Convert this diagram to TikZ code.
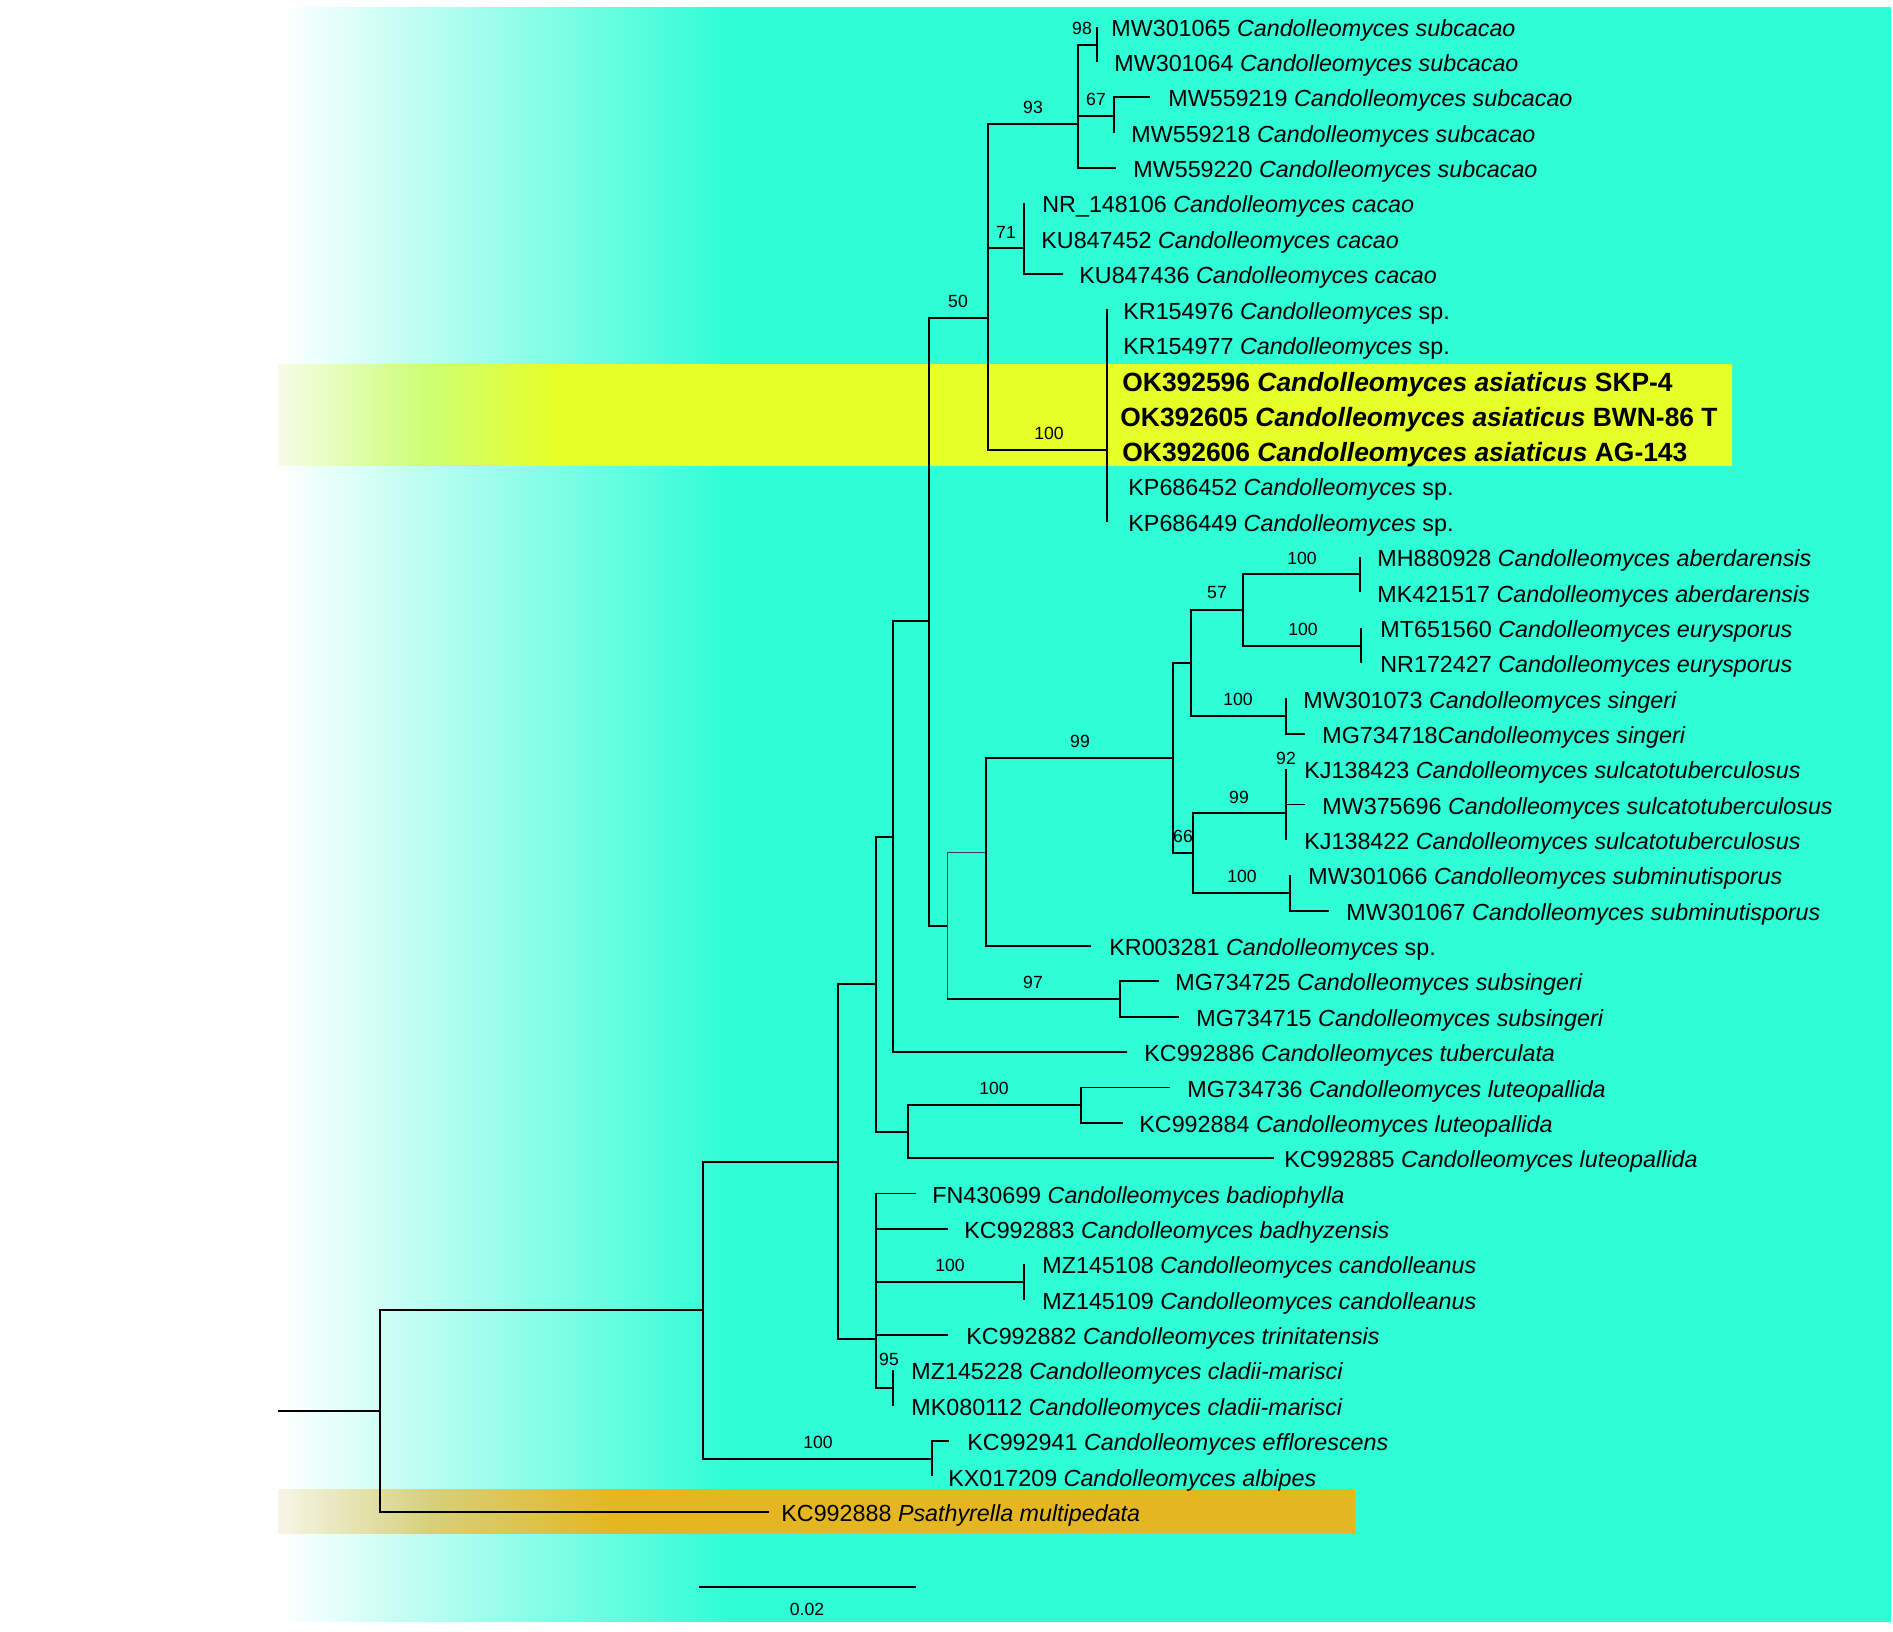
\documentclass[tikz,border=0pt]{standalone}
\usepackage{fontspec}
\setmainfont{Liberation Sans}
\usepackage{xcolor}
\usepackage{tikz}

\definecolor{bgteal}{RGB}{46,253,213}
\definecolor{hlyellow}{RGB}{230,255,38}
\definecolor{hlyelpale}{RGB}{246,252,232}
\definecolor{hlyelmid}{RGB}{205,255,118}
\definecolor{hlorange}{RGB}{228,183,34}
\definecolor{hlorpale}{RGB}{246,246,230}
\definecolor{hlormid}{RGB}{214,208,125}

% panel fades (path box maps to 25bp..75bp)
\pgfdeclarehorizontalshading{tealfade}{100bp}{color(0bp)=(white); color(25bp)=(white); color(39bp)=(bgteal); color(100bp)=(bgteal)}
\pgfdeclarehorizontalshading{yelfade}{100bp}{color(0bp)=(hlyelpale); color(25bp)=(hlyelpale); color(30bp)=(hlyelmid); color(34.7bp)=(hlyellow); color(100bp)=(hlyellow)}
\pgfdeclarehorizontalshading{orfade}{100bp}{color(0bp)=(hlorpale); color(25bp)=(hlorpale); color(32bp)=(hlormid); color(40.5bp)=(hlorange); color(100bp)=(hlorange)}

\begin{document}
\begin{tikzpicture}[x=0.5pt, y=-0.5pt,
  br/.style={draw=black, line width=0.9pt},
  brthin/.style={draw=black!75, line width=0.45pt},
  leafbase/.style={anchor=base west, inner sep=0pt, font=\fontsize{11.65pt}{14pt}\selectfont},
  leaf/.style={leafbase, yshift=-4.8pt},
  leafhl/.style={leafbase, font=\fontsize{13.2pt}{16pt}\selectfont\bfseries, yshift=-5.4pt},
  boot/.style={inner sep=0pt, font=\fontsize{8.8pt}{10pt}\selectfont},
]
\useasboundingbox (0,0) rectangle (1893,1631);

% ====== background panels ======
\shade[shading=tealfade] (278,8) rectangle (1891,1621);
\shade[shading=yelfade] (278,364) rectangle (1732,465);
\shade[shading=orfade] (278,1489) rectangle (1355,1533);

% ====== leaves ======
\coordinate (t01) at (1097,26.6);   \node[leaf] (l01) at (1111,26.6)   {MW301065 \textit{Candolleomyces subcacao}};
\coordinate (t02) at (1097,62.0);   \node[leaf] (l02) at (1114,62.0)   {MW301064 \textit{Candolleomyces subcacao}};
\coordinate (t03) at (1150,97.3);   \node[leaf] (l03) at (1168,97.3)   {MW559219 \textit{Candolleomyces subcacao}};
\coordinate (t04) at (1114,132.7);  \node[leaf] (l04) at (1131,132.7)  {MW559218 \textit{Candolleomyces subcacao}};
\coordinate (t05) at (1116,168.0);  \node[leaf] (l05) at (1133,168.0)  {MW559220 \textit{Candolleomyces subcacao}};
\coordinate (t06) at (1024,203.4);  \node[leaf] (l06) at (1042,203.4)  {NR\_148106 \textit{Candolleomyces cacao}};
\coordinate (t07) at (1024,238.8);  \node[leaf] (l07) at (1041,238.8)  {KU847452 \textit{Candolleomyces cacao}};
\coordinate (t08) at (1063,274.1);  \node[leaf] (l08) at (1079,274.1)  {KU847436 \textit{Candolleomyces cacao}};
\coordinate (t09) at (1107,309.5);  \node[leaf] (l09) at (1123,309.5)  {KR154976 \textit{Candolleomyces} sp.};
\coordinate (t10) at (1107,344.8);  \node[leaf] (l10) at (1123,344.8)  {KR154977 \textit{Candolleomyces} sp.};
\coordinate (t11) at (1107,380.2);  \node[leafhl] (l11) at (1122,380.2) {OK392596 \textit{Candolleomyces asiaticus} SKP-4};
\coordinate (t12) at (1107,415.6);  \node[leafhl] (l12) at (1120,415.6) {OK392605 \textit{Candolleomyces asiaticus} BWN-86 T};
\coordinate (t13) at (1107,450.9);  \node[leafhl] (l13) at (1122,450.9) {OK392606 \textit{Candolleomyces asiaticus} AG-143};
\coordinate (t14) at (1107,486.3);  \node[leaf] (l14) at (1128,486.3)  {KP686452 \textit{Candolleomyces} sp.};
\coordinate (t15) at (1107,521.6);  \node[leaf] (l15) at (1128,521.6)  {KP686449 \textit{Candolleomyces} sp.};
\coordinate (t16) at (1360,557.0);  \node[leaf] (l16) at (1377,557.0)  {MH880928 \textit{Candolleomyces aberdarensis}};
\coordinate (t17) at (1360,592.4);  \node[leaf] (l17) at (1377,592.4)  {MK421517 \textit{Candolleomyces aberdarensis}};
\coordinate (t18) at (1361,627.7);  \node[leaf] (l18) at (1380,627.7)  {MT651560 \textit{Candolleomyces eurysporus}};
\coordinate (t19) at (1361,663.1);  \node[leaf] (l19) at (1380,663.1)  {NR172427 \textit{Candolleomyces eurysporus}};
\coordinate (t20) at (1286,698.4);  \node[leaf] (l20) at (1303,698.4)  {MW301073 \textit{Candolleomyces singeri}};
\coordinate (t21) at (1305,733.8);  \node[leaf] (l21) at (1322,733.8)  {MG734718\textit{Candolleomyces singeri}};
\coordinate (t22) at (1286,769.2);  \node[leaf] (l22) at (1304,769.2)  {KJ138423 \textit{Candolleomyces sulcatotuberculosus}};
\coordinate (t23) at (1305,804.5);  \node[leaf] (l23) at (1322,804.5)  {MW375696 \textit{Candolleomyces sulcatotuberculosus}};
\coordinate (t24) at (1286,839.9);  \node[leaf] (l24) at (1304,839.9)  {KJ138422 \textit{Candolleomyces sulcatotuberculosus}};
\coordinate (t25) at (1290,875.2);  \node[leaf] (l25) at (1308,875.2)  {MW301066 \textit{Candolleomyces subminutisporus}};
\coordinate (t26) at (1329,910.6);  \node[leaf] (l26) at (1346,910.6)  {MW301067 \textit{Candolleomyces subminutisporus}};
\coordinate (t27) at (1091,946.0);  \node[leaf] (l27) at (1109,946.0)  {KR003281 \textit{Candolleomyces} sp.};
\coordinate (t28) at (1159,981.3);  \node[leaf] (l28) at (1175,981.3)  {MG734725 \textit{Candolleomyces subsingeri}};
\coordinate (t29) at (1179,1016.7); \node[leaf] (l29) at (1196,1016.7) {MG734715 \textit{Candolleomyces subsingeri}};
\coordinate (t30) at (1127,1052.0); \node[leaf] (l30) at (1144,1052.0) {KC992886 \textit{Candolleomyces tuberculata}};
\coordinate (t31) at (1170,1087.4); \node[leaf] (l31) at (1187,1087.4) {MG734736 \textit{Candolleomyces luteopallida}};
\coordinate (t32) at (1123,1122.8); \node[leaf] (l32) at (1139,1122.8) {KC992884 \textit{Candolleomyces luteopallida}};
\coordinate (t33) at (1274,1158.1); \node[leaf] (l33) at (1284,1158.1) {KC992885 \textit{Candolleomyces luteopallida}};
\coordinate (t34) at (916,1193.5);  \node[leaf] (l34) at (932,1193.5)  {FN430699 \textit{Candolleomyces badiophylla}};
\coordinate (t35) at (948,1228.8);  \node[leaf] (l35) at (964,1228.8)  {KC992883 \textit{Candolleomyces badhyzensis}};
\coordinate (t36) at (1024,1264.2); \node[leaf] (l36) at (1042,1264.2) {MZ145108 \textit{Candolleomyces candolleanus}};
\coordinate (t37) at (1024,1299.6); \node[leaf] (l37) at (1042,1299.6) {MZ145109 \textit{Candolleomyces candolleanus}};
\coordinate (t38) at (948,1334.9);  \node[leaf] (l38) at (966,1334.9)  {KC992882 \textit{Candolleomyces trinitatensis}};
\coordinate (t39) at (893,1370.3);  \node[leaf] (l39) at (911,1370.3)  {MZ145228 \textit{Candolleomyces cladii-marisci}};
\coordinate (t40) at (893,1405.6);  \node[leaf] (l40) at (911,1405.6)  {MK080112 \textit{Candolleomyces cladii-marisci}};
\coordinate (t41) at (949,1441.0);  \node[leaf] (l41) at (967,1441.0)  {KC992941 \textit{Candolleomyces efflorescens}};
\coordinate (t42) at (932,1476.4);  \node[leaf] (l42) at (948,1476.4)  {KX017209 \textit{Candolleomyces albipes}};
\coordinate (t43) at (769,1511.7);  \node[leaf] (l43) at (781,1511.7)  {KC992888 \textit{Psathyrella multipedata}};

% ====== internal nodes ======
\coordinate (stem) at (278,1411);
\coordinate (root) at (380,1411);
\coordinate (nA)   at (703,1310);
\coordinate (nB)   at (838,1162);
\coordinate (nC)   at (876,984);
\coordinate (nD)   at (893,837);
\coordinate (nE)   at (929,621);
\coordinate (nF)   at (947,926);
\coordinate (n50)  at (988,318);
\coordinate (n93)  at (1078,124);
\coordinate (n98)  at (1097,45);
\coordinate (n67)  at (1114,116);
\coordinate (n71)  at (1024,248);
\coordinate (nAs)  at (1107,450);
\coordinate (nK)   at (986,852);
\coordinate (n99)  at (1173,758);
\coordinate (nM)   at (1191,663);
\coordinate (n57)  at (1243,610);
\coordinate (nAb)  at (1360,574);
\coordinate (nEu)  at (1361,646);
\coordinate (nSi)  at (1286,716);
\coordinate (n66)  at (1193,853);
\coordinate (nSu)  at (1286,813);
\coordinate (nSm)  at (1290,893);
\coordinate (n97)  at (1120,999);
\coordinate (nL)   at (908,1132);
\coordinate (nLu)  at (1081,1105);
\coordinate (nP)   at (876,1339);
\coordinate (nCa)  at (1024,1282);
\coordinate (n95)  at (893,1388);
\coordinate (nEf)  at (932,1459);

% ====== branches ======
\draw[br] (stem) -- (root);
\draw[br] (root) |- (nA);  \draw[br] (root) |- (t43);
\draw[br] (nA) |- (nB);    \draw[br] (nA) |- (nEf);
\draw[br] (nEf) |- (t41);  \draw[br] (nEf) |- (t42);
\draw[br] (nB) |- (nC);    \draw[br] (nB) |- (nP);
\draw[br] (nP) |- (t34);   \draw[br] (nP) |- (t35);  \draw[br] (nP) |- (nCa);
\draw[br] (nP) |- (t38);   \draw[br] (nP) |- (n95);
\draw[br] (nCa) |- (t36);  \draw[br] (nCa) |- (t37);
\draw[br] (n95) |- (t39);  \draw[br] (n95) |- (t40);
\draw[br] (nC) |- (nD);    \draw[br] (nC) |- (nL);
\draw[br] (nL) |- (nLu);   \draw[br] (nL) |- (t33);
\draw[br] (nLu) |- (t31);  \draw[br] (nLu) |- (t32);
\draw[br] (nD) |- (nE);    \draw[br] (nD) |- (t30);
\draw[br] (nE) |- (n50);   \draw[br] (nE) |- (nF);
\draw[brthin] (nK) -| (nF) |- (n97);
\draw[br] (nF |- n97) -- (n97);
\draw[br] (n97) |- (t28);  \draw[br] (n97) |- (t29);
\draw[br] (nK) |- (n99);   \draw[br] (nK) |- (t27);
\draw[br] (n99) |- (nM);   \draw[br] (n99) |- (n66);
\draw[br] (nM) |- (n57);   \draw[br] (nM) |- (nSi);
\draw[br] (n57) |- (nAb);  \draw[br] (n57) |- (nEu);
\draw[br] (nAb) |- (t16);  \draw[br] (nAb) |- (t17);
\draw[br] (nEu) |- (t18);  \draw[br] (nEu) |- (t19);
\draw[br] (nSi) |- (t20);  \draw[br] (nSi) |- (t21);
\draw[br] (n66) |- (nSu);  \draw[br] (n66) |- (nSm);
\draw[br] (nSu) |- (t22);  \draw[br] (nSu) |- (t23);  \draw[br] (nSu) |- (t24);
\draw[br] (nSm) |- (t25);  \draw[br] (nSm) |- (t26);
\draw[br] (n50) |- (n93);  \draw[br] (n50) |- (n71);  \draw[br] (n50) |- (nAs);
\draw[br] (n93) |- (n98);  \draw[br] (n93) |- (n67);  \draw[br] (n93) |- (t05);
\draw[br] (n98) |- (t01);  \draw[br] (n98) |- (t02);
\draw[br] (n67) |- (t03);  \draw[br] (n67) |- (t04);
\draw[br] (n71) |- (t06);  \draw[br] (n71) |- (t07);  \draw[br] (n71) |- (t08);
\draw[br] (nAs) |- (t09);  \draw[br] (nAs) |- (t15);

% ====== bootstrap values ======
\node[boot] (b98)  at (1082,28)   {98};
\node[boot] (b67)  at (1096,99)   {67};
\node[boot] (b93)  at (1033,107)  {93};
\node[boot] (b71)  at (1006,232)  {71};
\node[boot] (b50)  at (958,301)   {50};
\node[boot] (bAs)  at (1049,433)  {100};
\node[boot] (bAb)  at (1302,558)  {100};
\node[boot] (b57)  at (1217,593)  {57};
\node[boot] (bEu)  at (1303,629)  {100};
\node[boot] (bSi)  at (1238,699)  {100};
\node[boot] (b99)  at (1080,741)  {99};
\node[boot] (b92)  at (1286,758)  {92};
\node[boot] (bSu)  at (1239,797)  {99};
\node[boot] (b66)  at (1183,836)  {66};
\node[boot] (bSm)  at (1242,876)  {100};
\node[boot] (b97)  at (1033,982)  {97};
\node[boot] (bLu)  at (994,1088)  {100};
\node[boot] (bCa)  at (950,1265)  {100};
\node[boot] (b95)  at (889,1359)  {95};
\node[boot] (bEf)  at (818,1442)  {100};

% scale bar
\coordinate (sb0) at (699,1587);
\coordinate (sb1) at (916,1587);
\draw[br] (sb0) -- (sb1);
\node[boot] (sbl) at (807,1609) {0.02};

\end{tikzpicture}
\end{document}
